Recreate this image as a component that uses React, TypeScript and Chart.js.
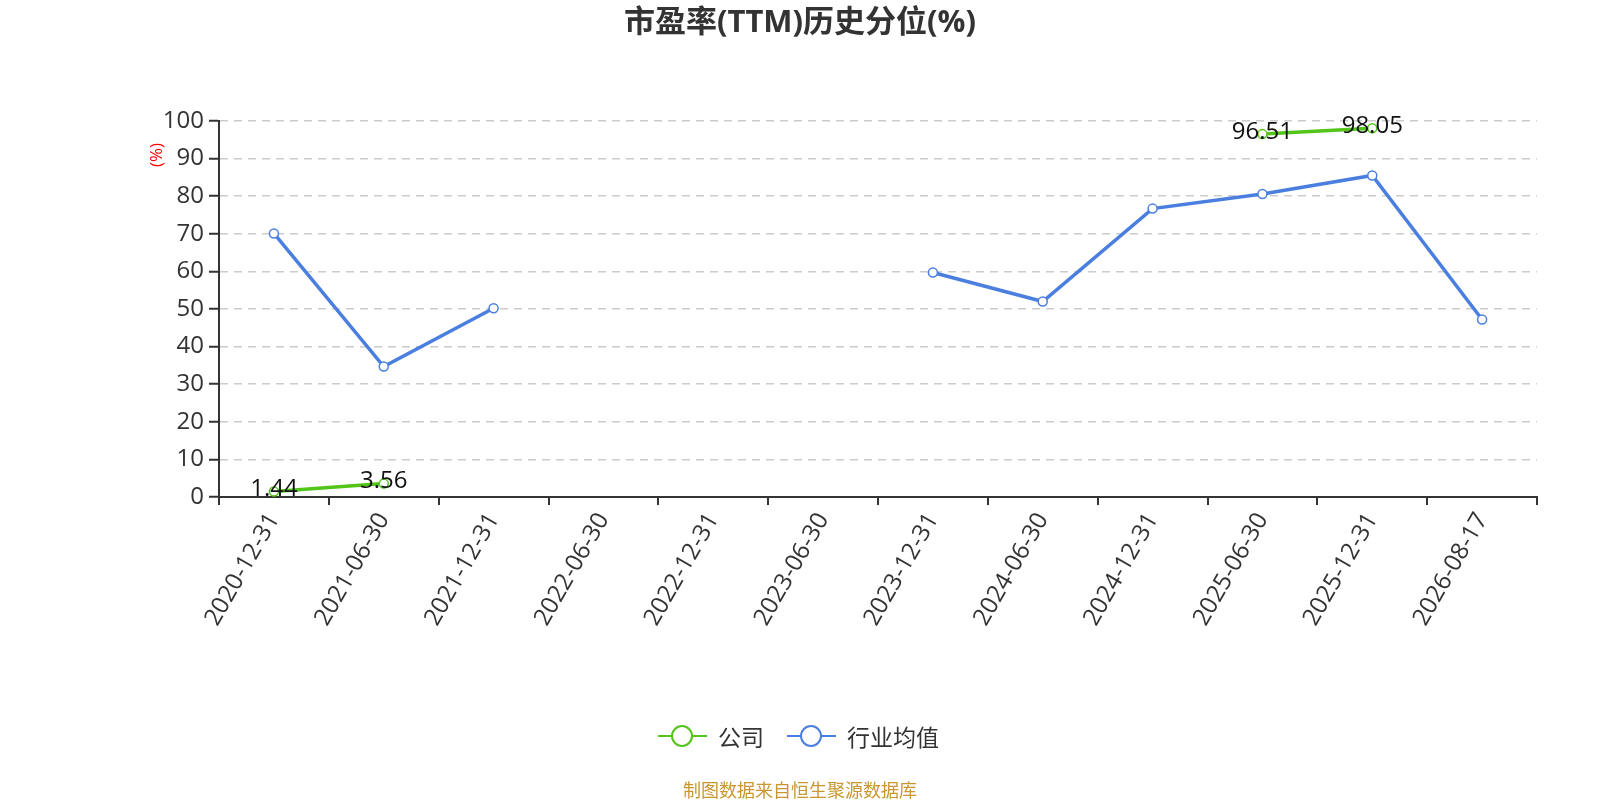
import React, { useEffect, useRef } from "react";
import { Chart, registerables } from "chart.js";

Chart.register(...registerables);

const categories = [
  "2020-12-31", "2021-06-30", "2021-12-31", "2022-06-30", "2022-12-31", "2023-06-30",
  "2023-12-31", "2024-06-30", "2024-12-31", "2025-06-30", "2025-12-31", "2026-08-17",
];
const companyValues: (number | null)[] = [1.44, 3.56, null, null, null, null, null, null, null, 96.51, 98.05, null];
const industryValues: (number | null)[] = [70.1, 34.7, 50.2, null, null, null, 59.7, 52.0, 76.7, 80.6, 85.5, 47.2];
const yTicks = [0, 10, 20, 30, 40, 50, 60, 70, 80, 90, 100];

const titleText = "市盈率(TTM)历史分位(%)";
const sourceText = "制图数据来自恒生聚源数据库";
const legendNames = ["公司", "行业均值"];
const GREEN = "#52c41a";
const BLUE = "#4a7fe0";
const FONT = '"Open Sans", "Noto Sans CJK SC", sans-serif';
const CJK = '"Noto Sans CJK SC", "Open Sans", sans-serif';

const decorPlugin = {
  id: "decor",
  afterDatasetsDraw(chart: any) {
    const ctx = chart.ctx;
    const meta = chart.getDatasetMeta(0);
    ctx.save();
    ctx.font = `24px ${FONT}`;
    ctx.fillStyle = "#111";
    ctx.textAlign = "center";
    ctx.textBaseline = "middle";
    meta.data.forEach((el: any, i: number) => {
      const v = companyValues[i];
      if (v === null || v === undefined) return;
      ctx.fillText(v.toFixed(2), el.x, el.y - 2);
    });
    ctx.restore();
  },
  afterDraw(chart: any) {
    const ctx = chart.ctx;
    ctx.save();
    // title
    ctx.font = `bold 31px ${FONT}`;
    ctx.fillStyle = "#333";
    ctx.textAlign = "center";
    ctx.textBaseline = "middle";
    ctx.fillText(titleText, 800, 23);
    // y axis name
    ctx.save();
    ctx.translate(157, 155);
    ctx.rotate(-Math.PI / 2);
    ctx.font = `17px ${FONT}`;
    ctx.fillStyle = "#f00";
    ctx.fillText("(%)", 0, 0);
    ctx.restore();
    // legend
    const items = [
      { x0: 658, color: GREEN, name: legendNames[0] },
      { x0: 787, color: BLUE, name: legendNames[1] },
    ];
    const ly = 736;
    items.forEach((it) => {
      ctx.strokeStyle = it.color;
      ctx.lineWidth = 2;
      ctx.beginPath();
      ctx.moveTo(it.x0, ly);
      ctx.lineTo(it.x0 + 49, ly);
      ctx.stroke();
      ctx.beginPath();
      ctx.arc(it.x0 + 24, ly, 10, 0, Math.PI * 2);
      ctx.fillStyle = "#fff";
      ctx.fill();
      ctx.stroke();
      ctx.font = `23px ${CJK}`;
      ctx.fillStyle = "#333";
      ctx.textAlign = "left";
      ctx.fillText(it.name, it.x0 + 60, ly + 1);
    });
    // source
    ctx.font = `18px ${CJK}`;
    ctx.fillStyle = "#c9962f";
    ctx.textAlign = "center";
    ctx.fillText(sourceText, 800, 790);
    ctx.restore();
  },
};

export default function App() {
  const ref = useRef<HTMLCanvasElement>(null);
  useEffect(() => {
    if (!ref.current) return;
    const chart = new Chart(ref.current, {
      type: "line",
      data: {
        labels: categories,
        datasets: [
          {
            label: legendNames[0],
            data: companyValues,
            borderColor: GREEN,
            backgroundColor: "#fff",
            borderWidth: 3.5,
            pointRadius: 4.5,
            pointBorderWidth: 1.5,
            pointBackgroundColor: "#fff",
            pointBorderColor: GREEN,
            spanGaps: false,
          },
          {
            label: legendNames[1],
            data: industryValues,
            borderColor: BLUE,
            backgroundColor: "#fff",
            borderWidth: 3.5,
            pointRadius: 4.5,
            pointBorderWidth: 1.5,
            pointBackgroundColor: "#fff",
            pointBorderColor: BLUE,
            spanGaps: false,
          },
        ],
      },
      options: {
        responsive: false,
        animation: false,
        devicePixelRatio: 1,
        layout: { padding: { left: 0, right: 63, top: 121, bottom: 0 } },
        plugins: { legend: { display: false }, title: { display: false }, tooltip: { enabled: false } },
        scales: {
          x: {
            type: "category",
            offset: true,
            grid: { offset: true, drawOnChartArea: false, color: "#333", tickLength: 8, lineWidth: 2 },
            border: { color: "#333", width: 2 },
            ticks: {
              color: "#333",
              font: { size: 24, family: FONT },
              maxRotation: 60,
              minRotation: 60,
              autoSkip: false,
              padding: 3,
            },
            afterFit(scale: any) { scale.height = 303; },
          },
          y: {
            min: 0,
            max: 100,
            afterBuildTicks(scale: any) { scale.ticks = yTicks.map((v) => ({ value: v })); },
            grid: {
              color: "#ccc",
              lineWidth: 1.5,
              tickLength: 10,
              tickColor: "#333",
              tickWidth: 2,
              tickBorderDash: [],
            } as any,
            border: { color: "#333", width: 2, dash: [8, 6] } as any,
            ticks: { color: "#333", font: { size: 24, family: FONT }, padding: 5 },
            afterFit(scale: any) { scale.width = 219; },
          },
        },
      },
      plugins: [decorPlugin],
    } as any);
    return () => chart.destroy();
  }, []);
  return (
    <div style={{ position: "fixed", left: 0, top: 0, width: 1600, height: 800, background: "#fff" }}>
      <canvas ref={ref} width={1600} height={800} style={{ width: 1600, height: 800 }} />
    </div>
  );
}
